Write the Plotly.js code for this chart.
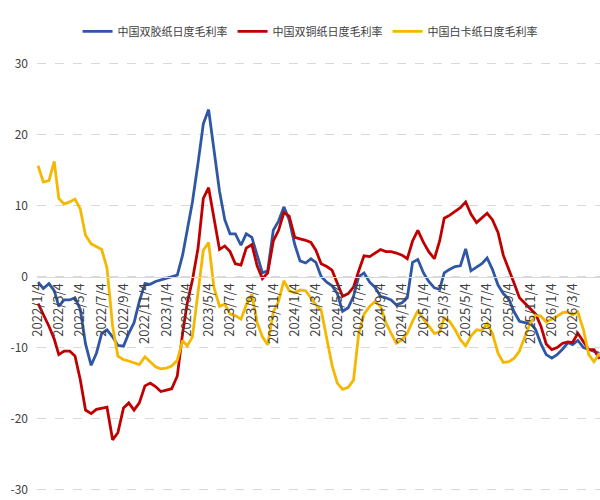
<!DOCTYPE html>
<html>
<head>
<meta charset="utf-8">
<script src="https://cdn.plot.ly/plotly-3.0.1.min.js"></script>
<style>html,body{margin:0;padding:0;background:#fff;}#chart{width:600px;height:500px;}</style>
</head>
<body>
<div id="chart"></div>
<script>
// Sampling grid: the 4th and the 19th of every month, 2022-01 .. 2026-05
const startYear = 2022, monthCount = 53, sampleDays = [4, 19];

const seriesNames = ['中国双胶纸日度毛利率', '中国双铜纸日度毛利率', '中国白卡纸日度毛利率'];
const seriesColors = ['#3057A6', '#C00000', '#F5B800'];

const blueValues = [
  -0.8, -1.7, -1.0, -2.0, -4.2, -3.3, -3.3, -3.0, -4.6, -9.5,
  -12.5, -10.8, -8.0, -7.5, -8.5, -9.7, -9.8, -8.0, -6.5, -3.5,
  -1.0, -1.1, -0.7, -0.5, -0.2, 0.0, 0.2, 3.0, 6.5, 10.5,
  16.0, 21.5, 23.5, 18.0, 12.0, 8.0, 6.0, 6.0, 4.4, 6.0,
  5.5, 3.0, 0.5, 0.8, 6.5, 7.8, 9.8, 8.0, 4.5, 2.2,
  1.9, 2.5, 2.0, 0.0, -0.8, -1.3, -2.4, -4.9, -4.4, -2.8,
  0.0, 0.5, -0.8, -1.5, -2.8, -3.0, -3.3, -4.0, -3.7, -3.0,
  2.0, 2.4, 0.5, -0.7, -1.6, -1.8, 0.5, 1.0, 1.4, 1.5,
  3.9, 0.8, 1.3, 1.8, 2.6, 1.0, -1.2, -2.4, -3.2, -5.0,
  -6.3, -6.5, -6.5, -7.5, -9.5, -11.0, -11.5, -11.0, -10.2, -9.3,
  -9.6, -9.0, -10.0, -10.3, -10.5, -10.8
];
const redValues = [
  -3.8, -5.3, -7.0, -8.8, -11.0, -10.5, -10.5, -11.2, -14.5, -18.8,
  -19.3, -18.7, -18.5, -18.4, -23.0, -22.0, -18.5, -17.8, -18.8, -17.8,
  -15.4, -15.0, -15.5, -16.2, -16.0, -15.8, -14.0, -8.0, -3.8, -0.5,
  4.0, 11.0, 12.5, 8.5, 3.8, 4.3, 3.5, 1.8, 1.6, 4.0,
  4.5, 1.5, -0.3, 0.5, 5.0, 6.5, 9.0, 8.5, 5.5, 5.3,
  5.1, 4.8, 3.7, 1.8, 1.4, 0.9, -1.0, -2.8, -2.4, -1.5,
  0.8, 2.9, 2.8, 3.3, 3.8, 3.5, 3.5, 3.3, 3.0, 2.5,
  5.0, 6.5, 4.8, 3.5, 2.5, 5.0, 8.2, 8.6, 9.2, 9.7,
  10.5, 8.8, 7.6, 8.2, 8.9, 8.0, 6.2, 3.0, 0.8, -1.0,
  -3.0, -3.8, -4.5, -5.3, -7.0, -9.5, -10.3, -10.0, -9.4, -9.2,
  -9.3, -8.0, -9.2, -10.3, -10.3, -11.6
];
const yellowValues = [
  15.6, 13.3, 13.5, 16.2, 11.0, 10.2, 10.5, 10.9, 9.5, 5.8,
  4.6, 4.2, 3.8, 1.2, -7.0, -11.2, -11.7, -11.9, -12.2, -12.4,
  -11.3, -12.0, -12.7, -13.0, -12.9, -12.6, -11.8, -9.0, -9.8, -8.5,
  -2.5, 3.7, 4.8, -1.5, -4.2, -3.9, -5.3, -5.5, -6.0, -4.0,
  -2.5, -6.5, -8.5, -9.6, -5.0, -3.5, -0.6, -2.0, -2.3, -1.9,
  -2.0, -3.0, -4.0, -4.7, -8.5, -12.5, -15.0, -15.9, -15.6, -14.6,
  -8.0, -5.3, -4.2, -3.5, -4.2, -6.5, -8.0, -9.4, -8.9, -8.0,
  -6.3, -4.8, -6.0, -7.0, -8.0, -7.8, -5.8, -6.3, -7.5, -8.9,
  -9.8, -8.4, -7.5, -7.6, -6.6, -8.0, -10.8, -12.1, -12.0, -11.5,
  -10.5, -8.5, -6.5, -5.4, -5.6, -6.4, -6.0, -5.6, -5.1, -5.0,
  -5.4, -5.0, -7.5, -11.0, -12.0, -10.8
];

const tickLabels = [
  '2022/1/4', '2022/3/4', '2022/5/4', '2022/7/4', '2022/9/4', '2022/11/4',
  '2023/1/4', '2023/3/4', '2023/5/4', '2023/7/4', '2023/9/4', '2023/11/4',
  '2024/1/4', '2024/3/4', '2024/5/4', '2024/7/4', '2024/9/4', '2024/11/4',
  '2025/1/4', '2025/3/4', '2025/5/4', '2025/7/4', '2025/9/4', '2025/11/4',
  '2026/1/4', '2026/3/4', '2026/5/4'
];
const yTickVals = [-30, -20, -10, 0, 10, 20, 30];
const yTickText = ['-30', '-20', '-10', '0', '10', '20', '30'];

function pad(n) { return (n < 10 ? '0' : '') + n; }
const dates = [];
for (let m = 0; m < monthCount; m++) {
  const y = startYear + Math.floor(m / 12), mo = (m % 12) + 1;
  sampleDays.forEach(d => dates.push(y + '-' + pad(mo) + '-' + pad(d)));
}
const tickVals = tickLabels.map(t => { const p = t.split('/'); return p[0] + '-' + pad(+p[1]) + '-' + pad(+p[2]); });

const allValues = [blueValues, redValues, yellowValues];
const traces = allValues.map((vals, i) => ({
  type: 'scatter', mode: 'lines',
  x: dates.slice(0, vals.length), y: vals,
  name: seriesNames[i],
  line: { color: seriesColors[i], width: 2.8 },
  hoverinfo: 'skip'
}));

const baseFont = 'Noto Sans CJK SC, Noto Sans, sans-serif';
const yMin = yTickVals[0];
const layout = {
  width: 600, height: 500,
  margin: { l: 37, r: 0, t: 62, b: 9 },
  paper_bgcolor: '#ffffff', plot_bgcolor: '#ffffff',
  font: { family: baseFont, size: 13, color: '#404040' },
  showlegend: true,
  legend: {
    orientation: 'h', x: 0.485, xanchor: 'center', y: 1.105, yanchor: 'top',
    font: { family: baseFont, size: 11, color: '#404040' },
    itemwidth: 30, traceorder: 'normal'
  },
  xaxis: {
    type: 'date', range: ['2022-01-01', '2026-05-21'],
    anchor: 'free', position: 0.5,
    showline: true, linecolor: '#d9d9d9', linewidth: 1.5,
    showgrid: false, zeroline: false, ticks: '',
    tickmode: 'array', tickvals: tickVals, ticktext: tickLabels,
    tickangle: -90, tickfont: { family: baseFont, size: 13, color: '#404040' }
  },
  yaxis: {
    range: [-30.2, 30.2],
    tickmode: 'array', tickvals: yTickVals, ticktext: yTickText,
    showline: false, zeroline: false, ticks: '', ticklabelstandoff: 8,
    ticklabeloverflow: 'allow',
    showgrid: true, gridcolor: '#d9d9d9', griddash: 'dash', gridwidth: 1,
    tickfont: { family: baseFont, size: 12, color: '#404040' }
  },
  shapes: [{
    type: 'line', xref: 'paper', yref: 'y', x0: 0, x1: 1, y0: yMin, y1: yMin,
    line: { color: '#d9d9d9', width: 1, dash: 'dash' }, layer: 'below'
  }]
};

Plotly.newPlot('chart', traces, layout, { displayModeBar: false, staticPlot: true });
</script>
</body>
</html>
